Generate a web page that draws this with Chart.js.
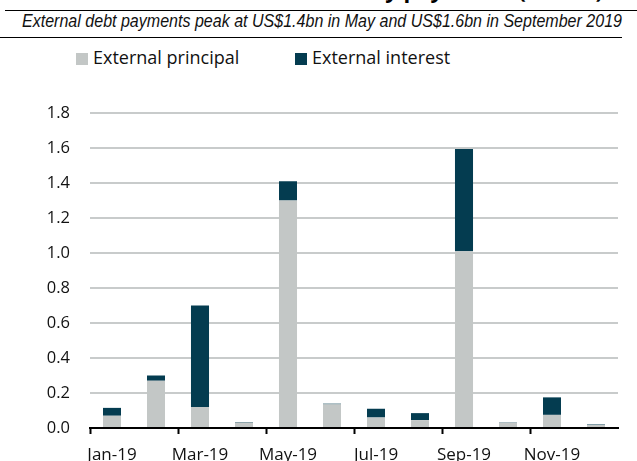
<!DOCTYPE html>
<html lang="en">
<head>
  <meta charset="UTF-8">
  <title>External debt payments</title>
  <script src="https://cdn.jsdelivr.net/npm/chart.js"></script>
  <style>
    body { margin: 0; width: 637px; height: 461px; overflow: hidden; background: #fff; font-family: "Open Sans", sans-serif; position: relative; }
    #title { position: absolute; right: 34px; top: -26px; font: bold 22px "Open Sans", sans-serif; line-height: 30px; white-space: nowrap; color: #000; }
    .rule { position: absolute; left: 0; height: 0; border-top: 1.5px solid #000; }
    #subtitle { position: absolute; left: 22px; top: 11px; font: italic 18px "Liberation Sans Narrow", "Liberation Sans", sans-serif; line-height: 20px; white-space: nowrap; transform-origin: left top; color: #111; }
    .leg { position: absolute; top: 44px; font-size: 18px; line-height: 26px; color: #111; white-space: nowrap; }
    .leg i { display: inline-block; width: 12px; height: 12px; margin-right: 5px; vertical-align: -1px; }
    #wrap { position: absolute; left: 0; top: 0; width: 637px; height: 461px; }
  </style>
</head>
<body>

<div id="title">Chart 3: Monthly payments (US$bn)</div>
<div class="rule" style="top:10px; left:5px; width:632px;"></div>
<div id="subtitle">External debt payments peak at US$1.4bn in May and US$1.6bn in September 2019</div>
<div class="rule" style="top:37px; width:622px; border-top-width:1px;"></div>
<div id="legend"></div>

<div id="wrap"><canvas id="debtChart" width="637" height="461"></canvas></div>

<script>
const months = ["Jan-19", "Feb-19", "Mar-19", "Apr-19", "May-19", "Jun-19",
                "Jul-19", "Aug-19", "Sep-19", "Oct-19", "Nov-19", "Dec-19"];
const principal = [0.07, 0.27, 0.12, 0.03, 1.30, 0.135, 0.06, 0.045, 1.01, 0.03, 0.075, 0.017];
const interest = [0.045, 0.03, 0.58, 0.003, 0.11, 0.004, 0.05, 0.04, 0.585, 0.002, 0.10, 0.003];
const yTicks = [0, 0.2, 0.4, 0.6, 0.8, 1.0, 1.2, 1.4, 1.6, 1.8];

const seriesNames = ["External principal", "External interest"];
const seriesColors = ["#C3C7C6", "#043C50"];

// squeeze subtitle to the width it has in the picture
const sub = document.getElementById("subtitle");
sub.style.transform = "scaleX(" + (600 / sub.getBoundingClientRect().width) + ")";

// legend in html, same spot as the reference
const legendX = [76, 295];
const legend = document.getElementById("legend");
seriesNames.forEach((name, i) => {
  const d = document.createElement("div");
  d.className = "leg";
  d.style.left = legendX[i] + "px";
  d.innerHTML = '<i style="background:' + seriesColors[i] + '"></i>' + name;
  legend.appendChild(d);
});

const font = { family: "'Open Sans', sans-serif", size: 16.5 };

new Chart(document.getElementById("debtChart"), {
  type: "bar",
  data: {
    labels: months,
    datasets: [
      { label: seriesNames[0], data: principal, backgroundColor: seriesColors[0] },
      { label: seriesNames[1], data: interest, backgroundColor: seriesColors[1] }
    ]
  },
  options: {
    responsive: false,
    animation: false,
    barPercentage: 0.41,
    categoryPercentage: 1.0,
    layout: { padding: { top: 113, right: 19, left: 0, bottom: 0 } },
    plugins: { legend: { display: false }, tooltip: { enabled: false } },
    scales: {
      x: {
        stacked: true,
        offset: true,
        afterFit: s => { s.height = 33; },
        grid: {
          offset: true,
          drawOnChartArea: false,
          tickLength: 6,
          tickWidth: 2,
          tickColor: c => (c.index % 2 === 0 ? "#000" : "rgba(0,0,0,0)")
        },
        border: { color: "#000", width: 2 },
        ticks: {
          autoSkip: false,
          maxRotation: 0,
          padding: 11,
          color: "#111",
          font: { family: "'Open Sans', sans-serif", size: 17 },
          callback: (v, i) => (i % 2 === 0 ? months[i] : "")
        }
      },
      y: {
        stacked: true,
        min: 0,
        max: 1.8,
        afterFit: s => { s.width = 90; },
        afterBuildTicks: s => { s.ticks = yTicks.map(v => ({ value: v })); },
        grid: { color: "#C8CBCB", lineWidth: 2, drawTicks: false },
        border: { display: false },
        ticks: {
          padding: 20,
          color: "#111",
          font: font,
          callback: v => v.toFixed(1)
        }
      }
    }
  }
});
</script>

</body>
</html>
